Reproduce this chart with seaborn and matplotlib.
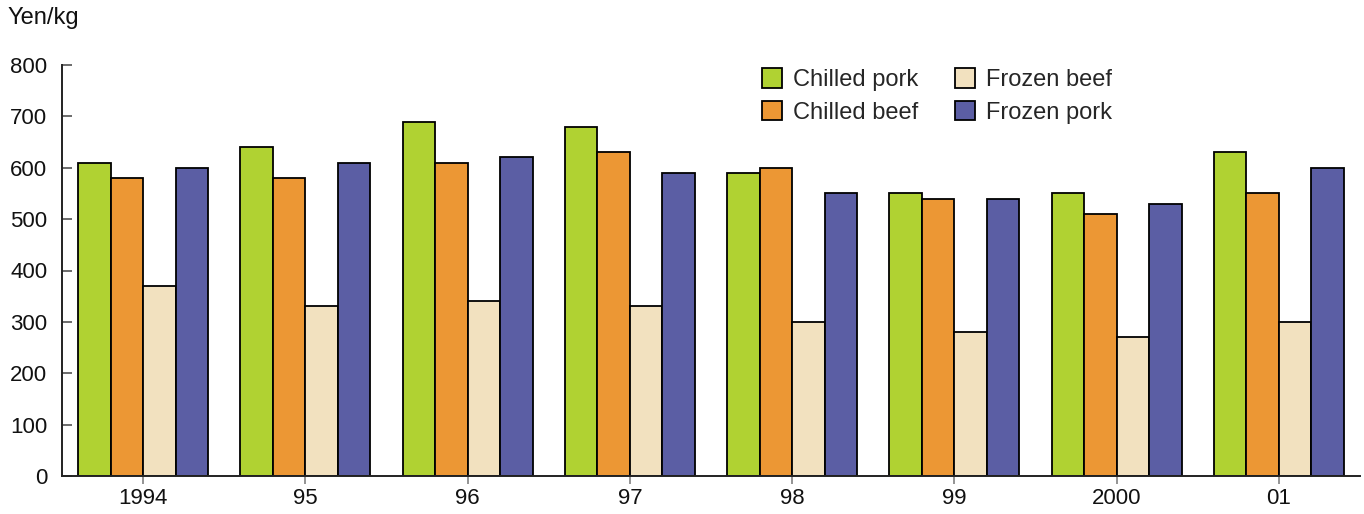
import matplotlib
matplotlib.use("Agg")
import matplotlib.pyplot as plt
import seaborn as sns
import pandas as pd

# Import prices of pork and beef, yen per kilogram
years = ["1994", "95", "96", "97", "98", "99", "2000", "01"]
chilled_pork = [610, 640, 690, 680, 590, 550, 550, 630]
chilled_beef = [580, 580, 610, 630, 600, 540, 510, 550]
frozen_beef = [370, 330, 340, 330, 300, 280, 270, 300]
frozen_pork = [600, 610, 620, 590, 550, 540, 530, 600]
series_names = ["Chilled pork", "Chilled beef", "Frozen beef", "Frozen pork"]
series_colors = ["#B0D232", "#EC9734", "#F2E1BF", "#5B5EA4"]
y_ticks = [0, 100, 200, 300, 400, 500, 600, 700, 800]

rows = []
for name, values in zip(series_names,
                        [chilled_pork, chilled_beef, frozen_beef, frozen_pork]):
    for year, v in zip(years, values):
        rows.append({"year": year, "product": name, "price": v})
df = pd.DataFrame(rows)

sns.set_theme(style="ticks")
plt.rcParams["font.family"] = ["Liberation Sans", "DejaVu Sans"]

fig = plt.figure(figsize=(13.64, 5.14), dpi=100)
ax = fig.add_axes([62 / 1364, 1 - 476 / 514, 1298 / 1364, 411 / 514])

sns.barplot(data=df, x="year", y="price", hue="product",
            order=years, hue_order=series_names,
            palette=series_colors, width=0.8, gap=0,
            edgecolor="black", linewidth=1.3, saturation=1,
            ax=ax)

ax.set_xlim(-0.5, len(years) - 0.5)
ax.set_ylim(0, 800)
ax.set_yticks(y_ticks)
ax.set_xlabel("")
ax.set_ylabel("")

for side in ["top", "right"]:
    ax.spines[side].set_visible(False)
for side in ["left", "bottom"]:
    ax.spines[side].set_linewidth(1.4)
    ax.spines[side].set_color("#222222")

ax.tick_params(axis="y", direction="in", length=7.5, width=1.1,
               color="#444444", pad=10.5, labelsize=16, labelcolor="#111111")
ax.tick_params(axis="x", direction="out", length=6, width=1.1,
               color="#777777", pad=3, labelsize=16, labelcolor="#111111")

handles, labels = ax.get_legend_handles_labels()
ax.legend(handles, labels, ncol=2, frameon=False,
          loc="upper left", bbox_to_anchor=(762 / 1364, 1 - 68 / 514),
          bbox_transform=fig.transFigure,
          fontsize=17, handlelength=0.85, handleheight=0.9,
          handletextpad=0.47, columnspacing=1.55, labelspacing=0.42,
          borderpad=0, borderaxespad=0)

fig.text(8 / 1364, 1 - 18 / 514, "Yen/kg", fontsize=17,
         ha="left", va="center", color="#111111")

fig.savefig("out.png", dpi=100)
